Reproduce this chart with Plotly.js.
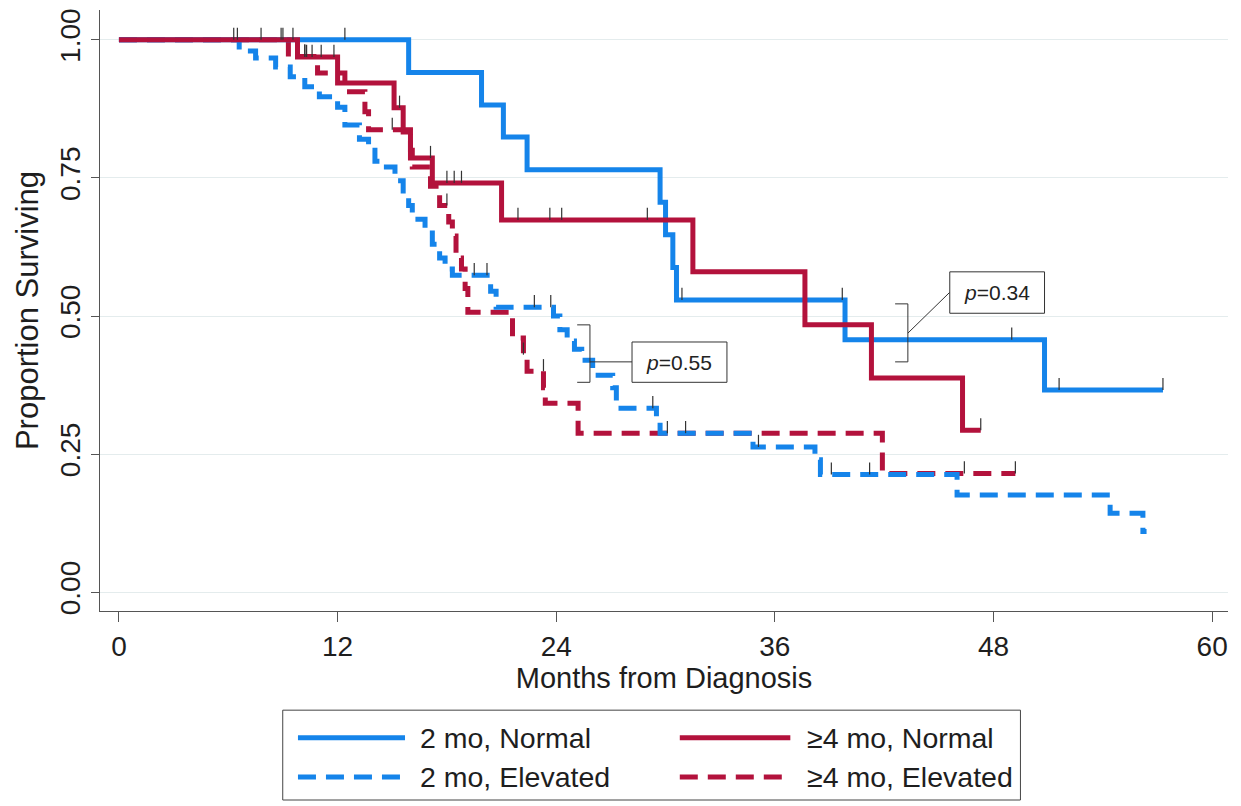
<!DOCTYPE html>
<html>
<head>
<meta charset="utf-8">
<script src="https://cdn.plot.ly/plotly-3.0.1.min.js"></script>
<style>html,body{margin:0;padding:0;background:#fff;}#chart{width:1241px;height:806px;}</style>
</head>
<body>
<div id="chart"></div>
<script>
// ---- Data (months, proportion surviving) ----
const seriesNames = ["2 mo, Normal", "≥4 mo, Normal", "2 mo, Elevated", "≥4 mo, Elevated"];

const twoNormalT = [0, 15.9, 19.9, 21.1, 22.4, 29.7, 30.0, 30.4, 30.6, 39.85, 50.8, 57.3];
const twoNormalS = [1, 0.941, 0.882, 0.824, 0.765, 0.706, 0.647, 0.588, 0.529, 0.457, 0.366, 0.366];
const twoNormalCensT = [12.4, 30.9, 39.7, 49.0, 51.6, 57.3];
const twoNormalCensS = [1, 0.529, 0.529, 0.457, 0.366, 0.366];

const fourNormalT = [0, 9.8, 12.0, 15.1, 15.6, 16.0, 17.2, 21.0, 31.5, 37.65, 41.3, 46.3, 47.3];
const fourNormalS = [1, 0.969, 0.922, 0.877, 0.833, 0.786, 0.741, 0.674, 0.580, 0.484, 0.388, 0.293, 0.293];
const fourNormalCensT = [6.3, 6.5, 7.8, 8.9, 9.0, 9.55, 10.2, 10.3, 10.6, 11.1, 11.8, 15.4, 17.1, 18.0, 18.4, 18.8, 21.9, 23.65, 24.3, 29.0, 47.3];
const fourNormalCensS = [1, 1, 1, 1, 1, 1, 0.969, 0.969, 0.969, 0.969, 0.969, 0.877, 0.786, 0.741, 0.741, 0.741, 0.674, 0.674, 0.674, 0.674, 0.293];

const twoElevT = [0, 6.6, 7.5, 8.6, 9.4, 10.2, 11.0, 12.0, 12.4, 13.2, 13.7, 14.05, 14.4, 15.15, 15.6, 15.9, 16.1, 16.8, 17.2, 17.6, 17.9, 18.3, 20.4, 20.7, 23.85, 24.2, 24.6, 25.0, 25.4, 26.0, 27.1, 27.3, 29.5, 29.7, 34.8, 38.2, 38.5, 46.0, 54.4, 56.2, 56.4];
const twoElevS = [1, 0.98, 0.967, 0.951, 0.933, 0.915, 0.897, 0.878, 0.846, 0.82, 0.80, 0.78, 0.77, 0.745, 0.72, 0.70, 0.675, 0.655, 0.63, 0.605, 0.585, 0.574, 0.545, 0.516, 0.50, 0.475, 0.455, 0.44, 0.42, 0.393, 0.37, 0.333, 0.31, 0.288, 0.263, 0.24, 0.213, 0.176, 0.143, 0.11, 0.11];
const twoElevCensT = [19.5, 20.2, 22.8, 23.7, 29.3, 30.1, 31.1, 35.1, 39.1, 41.2];
const twoElevCensS = [0.574, 0.574, 0.516, 0.516, 0.333, 0.288, 0.288, 0.263, 0.213, 0.213];

const fourElevT = [0, 9.3, 10.9, 12.4, 13.5, 13.7, 16.0, 16.1, 17.1, 17.6, 18.1, 18.3, 18.5, 18.8, 19.0, 19.15, 21.6, 22.2, 22.4, 23.3, 23.4, 25.2, 41.9, 49.2];
const fourElevS = [1, 0.97, 0.94, 0.906, 0.87, 0.837, 0.80, 0.77, 0.735, 0.70, 0.67, 0.645, 0.605, 0.585, 0.55, 0.507, 0.46, 0.43, 0.40, 0.37, 0.342, 0.288, 0.215, 0.215];
const fourElevCensT = [10.2, 15.0, 18.0, 22.2, 23.3, 46.4, 49.2];
const fourElevCensS = [0.97, 0.837, 0.70, 0.43, 0.40, 0.215, 0.215];

const xTicks = [0, 12, 24, 36, 48, 60];
const yTicks = [0, 0.25, 0.5, 0.75, 1];
const pLabels = ["0.55", "0.34"];

// ---- Styling ----
const BLUE = "#1584EA";
const RED = "#B3123C";
const FONT = "Liberation Sans, Arial, sans-serif";
const DASH = "18px,10px";

function curve(t, s, color, dash, name) {
  return {x: t, y: s, type: "scatter", mode: "lines", name: name, showlegend: false,
    line: {color: color, width: 5, shape: "hv", dash: dash}, hoverinfo: "skip"};
}
function cens(t, s) {
  return {x: t, y: s, type: "scatter", mode: "markers", showlegend: false, hoverinfo: "skip",
    marker: {size: 1, color: "rgba(0,0,0,0)"},
    error_y: {type: "constant", value: 0.022, valueminus: 0, symmetric: false, width: 0, thickness: 1.2, color: "#333"}};
}

const traces = [
  curve(fourElevT, fourElevS, RED, DASH, seriesNames[3]),
  curve(twoElevT, twoElevS, BLUE, DASH, seriesNames[2]),
  curve(twoNormalT, twoNormalS, BLUE, "solid", seriesNames[0]),
  curve(fourNormalT, fourNormalS, RED, "solid", seriesNames[1]),
  cens(twoNormalCensT, twoNormalCensS),
  cens(fourNormalCensT, fourNormalCensS),
  cens(twoElevCensT, twoElevCensS),
  cens(fourElevCensT, fourElevCensS)
];

// custom legend (paper coords)
const legColors = [BLUE, RED, BLUE, RED];
const legDash = ["solid", "solid", DASH, DASH];
const legCol = [[0.1755, 0.2704, 0.282], [0.514, 0.612, 0.625]];
const legRowY = [-0.211, -0.276];
const shapes = [
  {type: "rect", xref: "paper", yref: "paper", x0: 0.162, x1: 0.816, y0: -0.3145, y1: -0.165,
   line: {color: "#444", width: 1}, fillcolor: "rgba(0,0,0,0)"}
];
const annotations = [];
for (let i = 0; i < 4; i++) {
  const c = legCol[i % 2], y = legRowY[Math.floor(i / 2)];
  shapes.push({type: "line", xref: "paper", yref: "paper", x0: c[0], x1: c[1], y0: y, y1: y,
    line: {color: legColors[i], width: 5, dash: legDash[i]}});
  annotations.push({xref: "paper", yref: "paper", x: c[2], y: y, xanchor: "left", yanchor: "middle",
    text: seriesNames[i], showarrow: false, font: {family: FONT, size: 28.5, color: "#1e1e1e"}});
}

// p-value callouts (data coords)
function bracket(x, stub, y0, y1) {
  return [
    {type: "line", x0: x, x1: x, y0: y0, y1: y1, line: {color: "#333", width: 1}},
    {type: "line", x0: stub, x1: x, y0: y0, y1: y0, line: {color: "#333", width: 1}},
    {type: "line", x0: stub, x1: x, y0: y1, y1: y1, line: {color: "#333", width: 1}}
  ];
}
shapes.push(...bracket(25.85, 25.15, 0.484, 0.380));
shapes.push({type: "line", x0: 25.85, x1: 28.16, y0: 0.417, y1: 0.417, line: {color: "#333", width: 1}});
shapes.push({type: "rect", x0: 28.16, x1: 33.37, y0: 0.380, y1: 0.453, line: {color: "#333", width: 1}, fillcolor: "#fff"});
annotations.push({x: 30.76, y: 0.4165, text: "<i>p</i>=" + pLabels[0], showarrow: false,
  font: {family: FONT, size: 21, color: "#222"}});

shapes.push(...bracket(43.3, 42.6, 0.522, 0.417));
shapes.push({type: "line", x0: 43.3, x1: 45.6, y0: 0.469, y1: 0.543, line: {color: "#333", width: 1}});
shapes.push({type: "rect", x0: 45.6, x1: 50.8, y0: 0.505, y1: 0.580, line: {color: "#333", width: 1}, fillcolor: "#fff"});
annotations.push({x: 48.2, y: 0.5425, text: "<i>p</i>=" + pLabels[1], showarrow: false,
  font: {family: FONT, size: 21, color: "#222"}});

const layout = {
  width: 1241, height: 806,
  margin: {l: 100, r: 13, t: 10, b: 195},
  paper_bgcolor: "#fff", plot_bgcolor: "#fff",
  font: {family: FONT, color: "#1e1e1e"},
  showlegend: false,
  xaxis: {
    range: [-1.04, 60.87], tickvals: xTicks, ticktext: xTicks.map(String),
    showgrid: false, zeroline: false, showline: true, linecolor: "#555", linewidth: 1,
    ticks: "outside", ticklen: 10, tickcolor: "#555",
    tickfont: {family: FONT, size: 28, color: "#1e1e1e"},
    title: {text: "Months from Diagnosis", font: {family: FONT, size: 29, color: "#1e1e1e"}, standoff: 4}
  },
  yaxis: {
    range: [-0.034, 1.054], tickvals: yTicks, ticktext: yTicks.map(v => v.toFixed(2)),
    showgrid: true, gridcolor: "#e4eced", gridwidth: 1, zeroline: false,
    showline: true, linecolor: "#555", linewidth: 1,
    ticks: "outside", ticklen: 8, tickcolor: "#555", tickangle: -90,
    tickfont: {family: FONT, size: 28, color: "#1e1e1e"},
    title: {text: "Proportion Surviving", font: {family: FONT, size: 31, color: "#1e1e1e"}, standoff: 6}
  },
  shapes: shapes,
  annotations: annotations
};

Plotly.newPlot("chart", traces, layout, {displayModeBar: false, staticPlot: true});
</script>
</body>
</html>
